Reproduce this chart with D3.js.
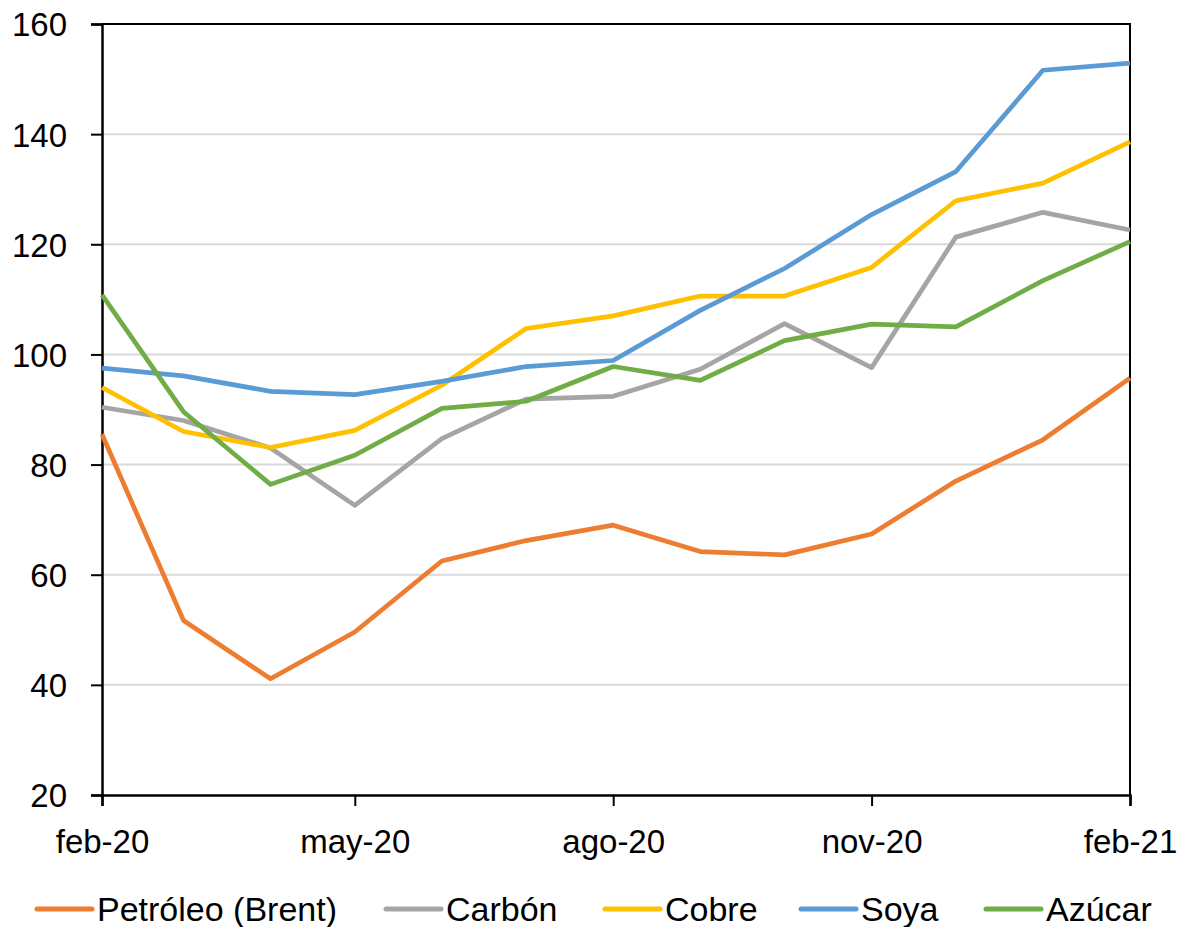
<!DOCTYPE html>
<html>
<head>
<meta charset="utf-8">
<script src="https://cdn.jsdelivr.net/npm/d3@7"></script>
<style>
  body { margin: 0; background: #fff; }
  text { font-family: "Liberation Sans", Arial, sans-serif; fill: #000; }
</style>
</head>
<body>
<script>
// monthly index values, feb-20 .. feb-21
var months = ["2020-02", "2020-03", "2020-04", "2020-05", "2020-06", "2020-07", "2020-08",
              "2020-09", "2020-10", "2020-11", "2020-12", "2021-01", "2021-02"];
var petroleo = [85.5, 51.7, 41.1, 49.6, 62.5, 66.2, 69.0, 64.2, 63.6, 67.4, 77.0, 84.5, 95.7];
var carbon   = [90.4, 88.0, 83.0, 72.6, 84.7, 91.9, 92.4, 97.3, 105.6, 97.6, 121.3, 125.8, 122.6];
var cobre    = [94.0, 86.0, 83.1, 86.2, 94.4, 104.7, 107.0, 110.6, 110.6, 115.8, 127.9, 131.1, 138.6];
var soya     = [97.5, 96.1, 93.3, 92.7, 95.1, 97.8, 98.9, 108.0, 115.6, 125.4, 133.2, 151.6, 152.9];
var azucar   = [110.8, 89.6, 76.4, 81.7, 90.2, 91.5, 97.8, 95.3, 102.5, 105.5, 105.0, 113.4, 120.5];

var seriesNames = ["Petróleo (Brent)", "Carbón", "Cobre", "Soya", "Azúcar"];
var seriesColors = ["#ED7D31", "#A5A5A5", "#FFC000", "#5B9BD5", "#70AD47"];
var seriesValues = [petroleo, carbon, cobre, soya, azucar];

var yTicks = [20, 40, 60, 80, 100, 120, 140, 160];
var monthLabels = ["ene", "feb", "mar", "abr", "may", "jun", "jul", "ago", "sep", "oct", "nov", "dic"];

var width = 1183, height = 927;
var margin = {top: 24, right: 53, bottom: 132, left: 102};

var svg = d3.select("body").append("svg")
    .attr("width", width)
    .attr("height", height);

var parse = d3.timeParse("%Y-%m");
var dates = months.map(parse);

var x = d3.scaleTime()
    .domain(d3.extent(dates))
    .range([margin.left, width - margin.right]);

var y = d3.scaleLinear()
    .domain([20, 160])
    .range([height - margin.bottom, margin.top]);

// gridlines
svg.append("g")
    .selectAll("line")
    .data(yTicks.slice(1, -1))
    .join("line")
    .attr("x1", margin.left)
    .attr("x2", width - margin.right)
    .attr("y1", function(d) { return y(d); })
    .attr("y2", function(d) { return y(d); })
    .attr("stroke", "#d9d9d9")
    .attr("stroke-width", 2);

// frame top and right
svg.append("path")
    .attr("d", "M" + margin.left + "," + y(160) + "H" + (width - margin.right) + "V" + y(20))
    .attr("fill", "none")
    .attr("stroke", "#000")
    .attr("stroke-width", 2);

// y axis
var yAxis = svg.append("g")
    .attr("transform", "translate(" + margin.left + ",0)")
    .call(d3.axisLeft(y).tickValues(yTicks).tickSize(11).tickPadding(24).tickFormat(d3.format("d")));
yAxis.select(".domain").attr("stroke", "#000").attr("stroke-width", 2.5);
yAxis.selectAll(".tick line").attr("stroke", "#000").attr("stroke-width", 2);
yAxis.selectAll("text").attr("font-size", 33).attr("dy", "0.36em")
    .style("font-family", "'Liberation Sans', Arial, sans-serif");

// x axis, ticks every third month
var xTickDates = dates.filter(function(d, i) { return i % 3 === 0; });
var xAxis = svg.append("g")
    .attr("transform", "translate(0," + y(20) + ")")
    .call(d3.axisBottom(x).tickValues(xTickDates).tickSize(11).tickPadding(24)
      .tickFormat(function(d) {
        return monthLabels[d.getMonth()] + "-" + String(d.getFullYear()).slice(2);
      }));
xAxis.select(".domain").attr("stroke", "#000").attr("stroke-width", 2.5);
xAxis.selectAll(".tick line").attr("stroke", "#000").attr("stroke-width", 2);
xAxis.selectAll("text").attr("font-size", 33).attr("dy", "0.71em")
    .style("font-family", "'Liberation Sans', Arial, sans-serif");

// lines
var line = d3.line()
    .x(function(d, i) { return x(dates[i]); })
    .y(function(d) { return y(d); });

svg.append("g")
    .selectAll("path")
    .data(seriesValues)
    .join("path")
    .attr("d", line)
    .attr("fill", "none")
    .attr("stroke", function(d, i) { return seriesColors[i]; })
    .attr("stroke-width", 4.7)
    .attr("stroke-linejoin", "round");

// legend
var legendX = [37, 386, 605, 801, 986];
var legend = svg.append("g")
    .selectAll("g")
    .data(seriesNames)
    .join("g")
    .attr("transform", function(d, i) { return "translate(" + legendX[i] + ",909)"; });

legend.append("line")
    .attr("x1", 0)
    .attr("x2", 55)
    .attr("stroke", function(d, i) { return seriesColors[i]; })
    .attr("stroke-width", 5)
    .attr("stroke-linecap", "round");

legend.append("text")
    .attr("x", 60)
    .attr("y", 12)
    .attr("font-size", 34)
    .text(function(d) { return d; });
</script>
</body>
</html>
